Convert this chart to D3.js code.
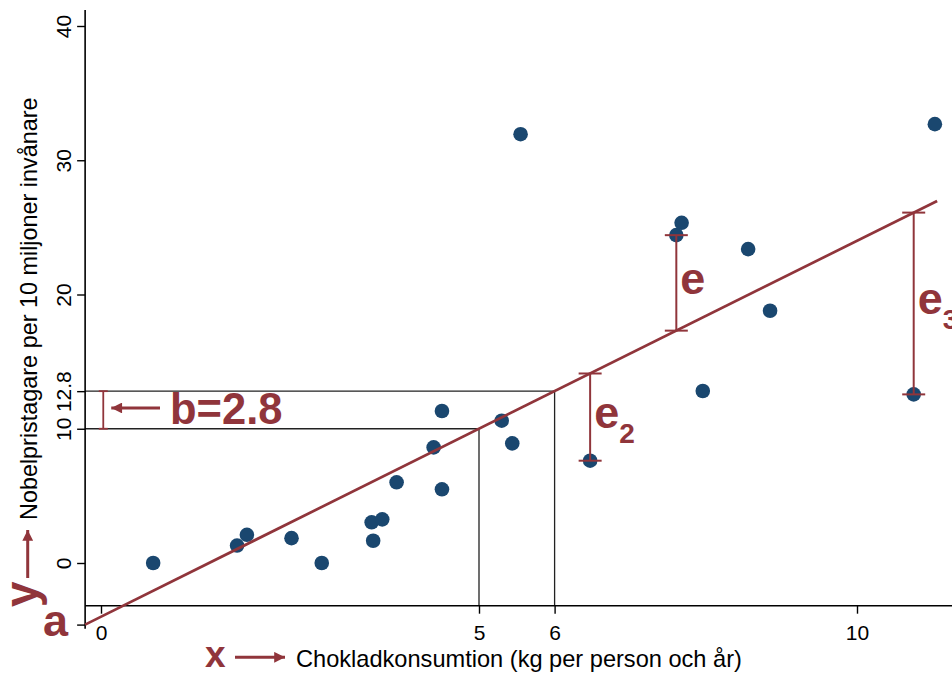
<!DOCTYPE html>
<html>
<head>
<meta charset="utf-8">
<script src="https://cdn.jsdelivr.net/npm/d3@7"></script>
<style>
  body { margin: 0; background: #fff; }
  svg { display: block; font-family: "Liberation Sans", Arial, Helvetica, sans-serif; }
  .tick text { font-size: 21px; fill: #000; }
  .tick line { stroke: #000; stroke-width: 1.4; }
  .red { fill: #90353b; font-weight: bold; }
</style>
</head>
<body>
<div id="chart"></div>
<script>
// Chocolate consumption (kg/person/year) vs Nobel laureates per 10 million
const chocolate = [0.69, 1.80, 1.93, 2.52, 2.92, 3.58, 3.72, 3.60, 3.91, 4.40, 4.51, 4.51,
                   5.30, 5.44, 5.55, 6.47, 7.61, 7.68, 7.96, 8.56, 8.85, 10.75, 11.03];
const nobel     = [0.00, 1.30, 2.10, 1.85, 0.00, 3.03, 3.25, 1.66, 6.01, 8.61, 11.32, 5.49,
                   10.60, 8.91, 31.94, 7.62, 24.42, 25.34, 12.81, 23.38, 18.79, 12.56, 32.69];

const xTicks = [0, 5, 6, 10];
const yTicks = [0, 10, 12.8, 20, 30, 40];

// fitted line y = a + b x
const intercept = -4;
const slope = 2.8;
const lineRange = [-0.21, 11.06];

// b illustration: step from x=5 to x=6
const stepX = [5, 6];

// residuals shown: index into data, label, subscript
const residualIdx = [15, 16, 21];
const residualLab = ['e', 'e', 'e'];
const residualSub = ['2', '', '3'];

const xTitle = 'Chokladkonsumtion (kg per person och år)';
const yTitle = 'Nobelpristagare per 10 miljoner invånare';

const width = 952, height = 673;
const red = '#90353b', blue = '#1a476f';

const x = d3.scaleLinear().domain([0, 10]).range([101, 857]);
const y = d3.scaleLinear().domain([0, 40]).range([563, 26]);
const fit = (v) => intercept + slope * v;

const axisX = -0.21;   // where the y axis sits (data x)
const axisY = -3.18;   // where the x axis sits (data y)

const svg = d3.select('#chart').append('svg')
    .attr('width', width)
    .attr('height', height);

svg.append('defs').append('marker')
    .attr('id', 'arrow')
    .attr('viewBox', '0 0 10 10')
    .attr('refX', 10).attr('refY', 5)
    .attr('markerWidth', 5.2).attr('markerHeight', 3.6)
    .attr('markerUnits', 'strokeWidth')
    .attr('orient', 'auto')
  .append('path')
    .attr('d', 'M0,0 L10,5 L0,10 z')
    .attr('fill', red);

// reference lines for b
const refs = svg.append('g').attr('class', 'refs')
    .attr('stroke', '#222').attr('stroke-width', 1.3).attr('fill', 'none');
stepX.forEach((sx) => {
  refs.append('path')
    .attr('d', `M${x(axisX)},${y(fit(sx))}H${x(sx)}V${y(axisY)}`);
});

// y axis
const yAxis = d3.axisLeft(y)
    .tickValues([fit(axisX)].concat(yTicks))
    .tickSize(8)
    .tickFormat((d) => d < -1 ? '' : d3.format('~g')(d));
const yAxisG = svg.append('g')
    .attr('transform', `translate(${x(axisX)},0)`)
    .call(yAxis);
yAxisG.select('.domain').remove();
yAxisG.selectAll('.tick text')
    .attr('transform', 'rotate(-90)')
    .attr('x', 0).attr('y', -14)
    .attr('dy', 0)
    .style('text-anchor', 'middle');
svg.append('line')
    .attr('x1', x(axisX)).attr('x2', x(axisX))
    .attr('y1', y(41.2)).attr('y2', y(-4.9))
    .attr('stroke', '#000').attr('stroke-width', 1.6);

// x axis
const xAxis = d3.axisBottom(x)
    .tickValues(xTicks)
    .tickSize(8)
    .tickFormat(d3.format('d'));
const xAxisG = svg.append('g')
    .attr('transform', `translate(0,${y(axisY)})`)
    .call(xAxis);
xAxisG.select('.domain').remove();
xAxisG.selectAll('.tick text').attr('y', 19).attr('dy', '0.71em');
svg.append('line')
    .attr('x1', x(axisX)).attr('x2', width)
    .attr('y1', y(axisY)).attr('y2', y(axisY))
    .attr('stroke', '#000').attr('stroke-width', 1.6);

// axis titles
svg.append('text')
    .attr('transform', `translate(36.5,520) rotate(-90)`)
    .style('font-size', '23.4px')
    .text(yTitle);
svg.append('text')
    .attr('x', 296).attr('y', 667)
    .style('font-size', '23.6px')
    .text(xTitle);

// points
svg.append('g').selectAll('circle')
  .data(chocolate.map((c, i) => [c, nobel[i]]))
  .join('circle')
    .attr('cx', (d) => x(d[0]))
    .attr('cy', (d) => y(d[1]))
    .attr('r', 7.3)
    .attr('fill', blue);

// fitted line
svg.append('line')
    .attr('x1', x(lineRange[0])).attr('y1', y(fit(lineRange[0])))
    .attr('x2', x(lineRange[1])).attr('y2', y(fit(lineRange[1])))
    .attr('stroke', red).attr('stroke-width', 2.7);

// residual bars
const res = svg.append('g').attr('class', 'residuals');
residualIdx.forEach((idx, k) => {
  const cx = x(chocolate[idx]);
  const y0 = y(nobel[idx]);
  const y1 = y(fit(chocolate[idx]));
  const g = res.append('g').attr('stroke', red).attr('stroke-width', 2);
  g.append('line').attr('x1', cx).attr('x2', cx).attr('y1', y0).attr('y2', y1);
  [y0, y1].forEach((yy) => {
    g.append('line').attr('x1', cx - 11.5).attr('x2', cx + 11.5).attr('y1', yy).attr('y2', yy);
  });
  const t = res.append('text')
      .attr('class', 'red')
      .attr('x', cx + 4)
      .attr('y', (y0 + y1) / 2 + 11)
      .style('font-size', '45px')
      .text(residualLab[k]);
  if (residualSub[k]) {
    t.append('tspan')
      .attr('dy', 15)
      .style('font-size', '28px')
      .text(residualSub[k]);
  }
});

// b bracket and label
const bx = x(0.03);
const b = svg.append('g').attr('stroke', red).attr('stroke-width', 1.8);
b.append('line').attr('x1', bx).attr('x2', bx).attr('y1', y(fit(stepX[0]))).attr('y2', y(fit(stepX[1])));
[fit(stepX[0]), fit(stepX[1])].forEach((v) => {
  b.append('line').attr('x1', bx - 4.5).attr('x2', bx + 4.5).attr('y1', y(v)).attr('y2', y(v));
});
const bMid = y((fit(stepX[0]) + fit(stepX[1])) / 2) - 2;
svg.append('line')
    .attr('x1', 160).attr('x2', bx + 8)
    .attr('y1', bMid).attr('y2', bMid)
    .attr('stroke', red).attr('stroke-width', 3)
    .attr('marker-end', 'url(#arrow)');
svg.append('text')
    .attr('class', 'red')
    .attr('x', 170).attr('y', 423.5)
    .style('font-size', '43.5px')
    .text(`b=${slope}`);

// a, x, y markers
svg.append('text')
    .attr('class', 'red')
    .attr('x', 43).attr('y', 636)
    .style('font-size', '45px')
    .text('a');
svg.append('text')
    .attr('class', 'red')
    .attr('transform', 'translate(37,607) rotate(-90)')
    .style('font-size', '46px')
    .text('y');
svg.append('line')
    .attr('x1', 27.7).attr('x2', 27.7)
    .attr('y1', 578).attr('y2', 530)
    .attr('stroke', red).attr('stroke-width', 3)
    .attr('marker-end', 'url(#arrow)');
svg.append('text')
    .attr('class', 'red')
    .attr('x', 205).attr('y', 667)
    .style('font-size', '37px')
    .text('x');
svg.append('line')
    .attr('x1', 235).attr('x2', 285)
    .attr('y1', 657.3).attr('y2', 657.3)
    .attr('stroke', red).attr('stroke-width', 3)
    .attr('marker-end', 'url(#arrow)');
</script>
</body>
</html>
